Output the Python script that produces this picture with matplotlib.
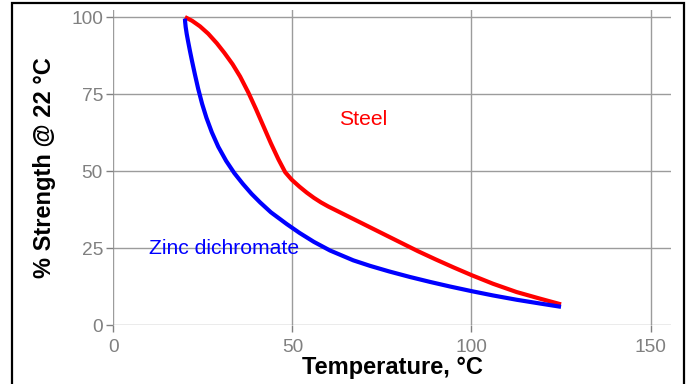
import matplotlib.pyplot as plt
import matplotlib.patches as mpatches

plt.rcParams['font.family'] = ['Liberation Sans', 'DejaVu Sans']

# Steel strength curve
steel_x = [20, 22, 24.2, 26.5, 28.9, 31, 33.3, 35.4, 37.7, 39.8, 41.9, 44, 46.1, 48, 49.8,
           52, 54, 56, 58, 60, 65, 70, 75, 80, 85, 90, 95, 100, 106, 112.6, 119, 125]
steel_y = [100, 98.8, 97, 94.6, 91.5, 88.4, 84.7, 80.7, 75.5, 70.2, 64.6, 59, 53.8, 49.6, 47.2,
           44.9, 43.0, 41.3, 39.8, 38.5, 35.6, 32.7, 29.8, 26.9, 24.0, 21.3, 18.7, 16.2, 13.4, 10.7, 8.6, 6.7]

# Zinc dichromate strength curve
zinc_x = [20, 20.05, 20.2, 20.5, 20.9, 21.4, 22, 22.8, 23.7, 24.8, 26, 27.5, 29.3, 31.5, 33.8, 36.2,
          38.6, 41, 44, 48.4, 52, 56, 60.5, 67, 71.7, 77, 82.8, 88.4, 94, 100, 106, 112.6, 119, 125]
zinc_y = [99.5, 98.5, 96.8, 94.5, 92, 89, 85.6, 81.3, 76.7, 71.8, 67.3, 62.6, 57.9, 53.3, 49.3, 45.8,
          42.6, 39.8, 36.6, 32.8, 29.9, 27.0, 24.2, 21.0, 19.2, 17.4, 15.6, 14.0, 12.5, 11.0, 9.6, 8.2, 7.0, 5.9]

x_ticks = [0, 50, 100, 150]
y_ticks = [0, 25, 50, 75, 100]

grid_col = '#9c9c9c'
tick_col = '#808080'

fig = plt.figure(figsize=(6.9, 3.84), dpi=100)
ax = fig.add_axes([113.3 / 690, 1 - 325 / 384, (671 - 113.3) / 690, (325 - 10) / 384])

ax.plot(steel_x, steel_y, color='#ff0000', lw=3, solid_capstyle='butt', solid_joinstyle='round', zorder=3)
ax.plot(zinc_x, zinc_y, color='#0000ff', lw=3, solid_capstyle='butt', solid_joinstyle='round', zorder=3)

ax.text(63, 66.9, 'Steel', color='#ff0000', fontsize=15.2, va='center', ha='left')
ax.text(10, 24.7, 'Zinc dichromate', color='#0000ff', fontsize=15.2, va='center', ha='left', zorder=4)

ax.set_xlim(0, 155.7)
ax.set_ylim(0, 102.3)
ax.set_xticks(x_ticks)
ax.set_yticks(y_ticks)
ax.grid(True, color=grid_col, lw=1)
ax.set_axisbelow(True)
for s in ax.spines.values():
    s.set_visible(False)
ax.tick_params(axis='both', colors=tick_col, labelcolor=tick_col, labelsize=13.8,
               length=5, width=1)
ax.tick_params(axis='x', pad=5)
ax.tick_params(axis='y', pad=2.5)

ax.set_xlabel('Temperature, °C', fontsize=17, fontweight='bold', labelpad=0)
ax.set_ylabel('% Strength @ 22 °C', fontsize=17, fontweight='bold', labelpad=11)

# black frame round the figure (bottom edge cut off)
frame = mpatches.Rectangle((12 / 690, -0.05), (683.5 - 12) / 690, 1.05 - 2.5 / 384,
                           transform=fig.transFigure, fill=False, edgecolor='black',
                           lw=1.6, clip_on=False)
fig.patches.append(frame)

plt.savefig('out.png', dpi=100)
plt.close(fig)
